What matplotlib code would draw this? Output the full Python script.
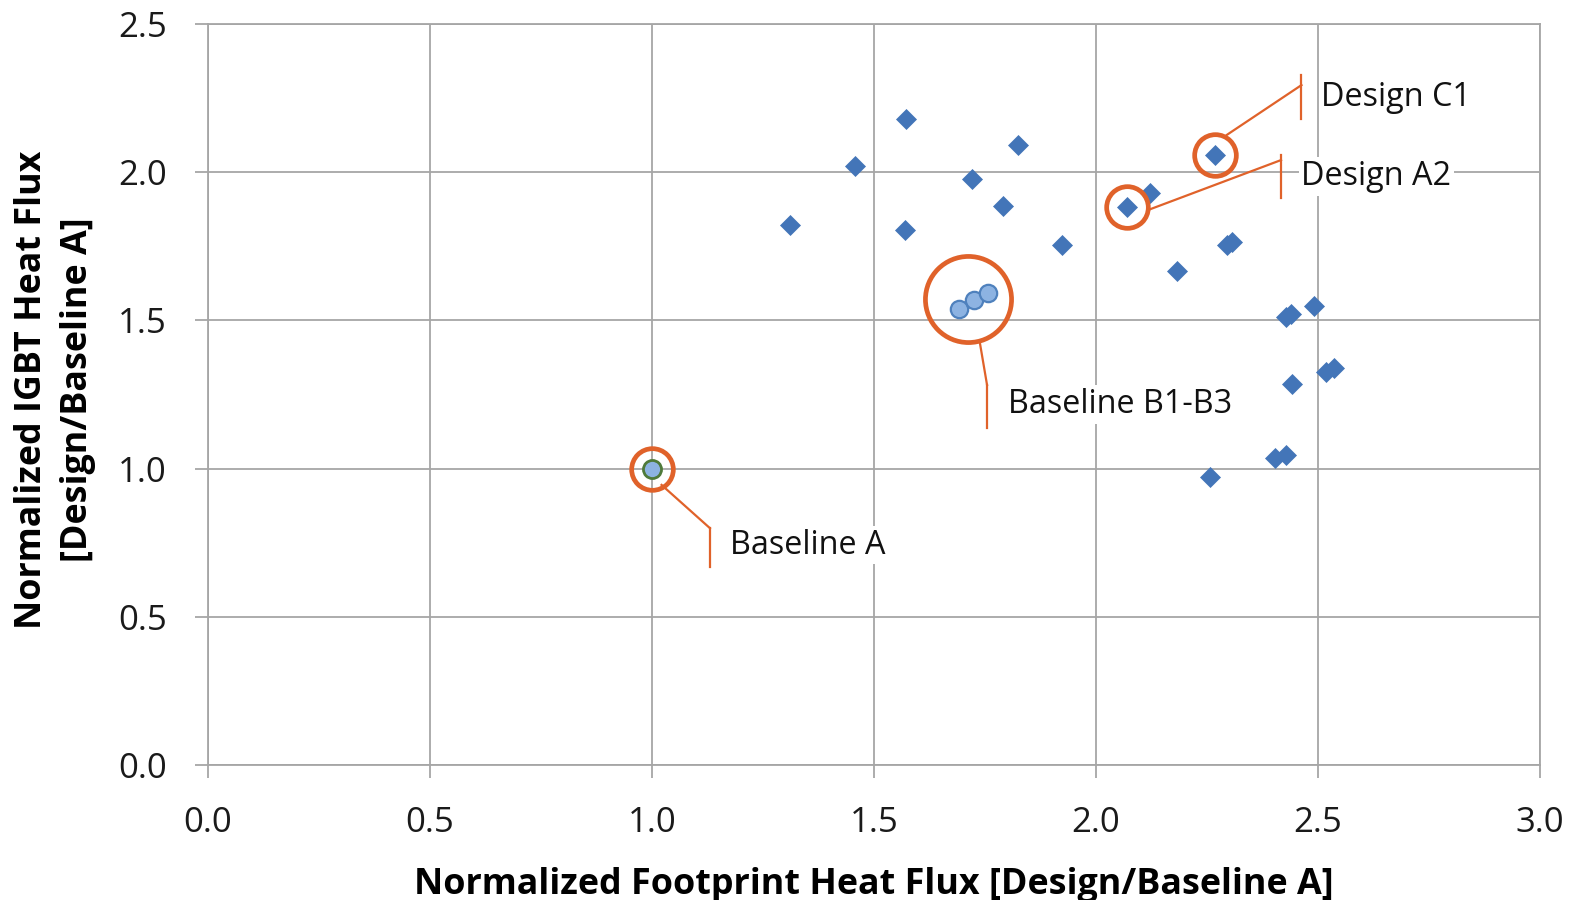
import matplotlib
matplotlib.use('Agg')
import matplotlib.pyplot as plt

# dane
design_x = [1.312, 1.457, 1.573, 1.571, 1.722, 1.824, 1.790, 1.924, 2.071, 2.123,
            2.268, 2.182, 2.295, 2.306, 2.429, 2.440, 2.491, 2.442, 2.519, 2.537,
            2.404, 2.429, 2.257]
design_y = [1.821, 2.022, 2.181, 1.804, 1.977, 2.093, 1.886, 1.753, 1.882, 1.930,
            2.058, 1.668, 1.756, 1.763, 1.512, 1.522, 1.550, 1.285, 1.327, 1.339,
            1.035, 1.046, 0.973]
baseline_b_x = [1.692, 1.726, 1.758]
baseline_b_y = [1.537, 1.569, 1.593]
baseline_a_x = [1.0]
baseline_a_y = [1.0]

xticks = [0.0, 0.5, 1.0, 1.5, 2.0, 2.5, 3.0]
yticks = [0.0, 0.5, 1.0, 1.5, 2.0, 2.5]

# opisy: tekst, punkt startu linii, punkt zalamania, pionowa kreska (x, y1, y2), pozycja tekstu
callouts = [
    ('Design C1', (2.295, 2.126), (2.463, 2.294), (2.463, 2.328, 2.178), (2.508, 2.253)),
    ('Design A2', (2.122, 1.875), (2.417, 2.041), (2.417, 2.058, 1.912), (2.463, 1.985)),
    ('Baseline B1-B3', (1.739, 1.423), (1.755, 1.282), (1.755, 1.282, 1.136), (1.802, 1.215)),
    ('Baseline A', (1.022, 0.945), (1.131, 0.799), (1.131, 0.799, 0.669), (1.176, 0.742)),
]
# kolka: srodek i srednica w punktach
rings = [((2.268, 2.058), 30), ((2.071, 1.882), 30), ((1.713, 1.572), 62), ((1.0, 1.0), 30)]

plt.rcParams['font.family'] = ['Open Sans', 'DejaVu Sans']

blue = '#4375B8'
orange = '#E0622A'
grey = '#A6A6A6'

fig = plt.figure(figsize=(15.77, 9.0), dpi=100)
ax = fig.add_axes([0.1317, 0.15, 0.8448, 0.8233])

ax.set_xlim(0, 3)
ax.set_ylim(0, 2.5)
ax.set_xticks(xticks)
ax.set_yticks(yticks)
ax.set_xticklabels(['%.1f' % v for v in xticks])
ax.set_yticklabels(['%.1f' % v for v in yticks])
ax.grid(True, color=grey, lw=1.3)
ax.set_axisbelow(True)
for s in ax.spines.values():
    s.set_color(grey)
    s.set_linewidth(1.3)
ax.tick_params(direction='out', length=9.5, width=1.3, color=grey,
               labelsize=25, pad=20, labelcolor='#1a1a1a')

# punkty
ax.plot(design_x, design_y, 'D', color=blue, ms=10, mec=blue, mew=0.5, zorder=3)
ax.plot(baseline_b_x, baseline_b_y, 'o', ms=12.5, mfc='#8DB3E2', mec='#4F81BD', mew=1.6, zorder=3)
ax.plot(baseline_a_x, baseline_a_y, 'o', ms=13, mfc='#8DB3E2', mec='#4F7A3A', mew=2, zorder=3)

for (cx, cy), d in rings:
    ax.plot([cx], [cy], 'o', ms=d, mfc='none', mec=orange, mew=3.4, zorder=4)

for txt, p0, p1, vt, tp in callouts:
    ax.plot([p0[0], p1[0]], [p0[1], p1[1]], color=orange, lw=1.6, zorder=4)
    ax.plot([vt[0], vt[0]], [vt[1], vt[2]], color=orange, lw=1.6, zorder=4)
    ax.text(tp[0], tp[1], txt, fontsize=23.3, va='center', ha='left', color='#111111',
            bbox=dict(facecolor='white', edgecolor='none', pad=2), zorder=5)

ax.set_xlabel('Normalized Footprint Heat Flux [Design/Baseline A]', fontsize=25.8, fontweight='bold')
ax.xaxis.set_label_coords(0.5, -0.162)
ax.xaxis.label.set_va('center')
ax.set_ylabel('Normalized IGBT Heat Flux\n[Design/Baseline A]', fontsize=25.8, fontweight='bold',
              ha='center', va='center', multialignment='center', linespacing=1.38)
ax.yaxis.set_label_coords(-0.1146, 0.506)

fig.savefig('out.png', dpi=100)
